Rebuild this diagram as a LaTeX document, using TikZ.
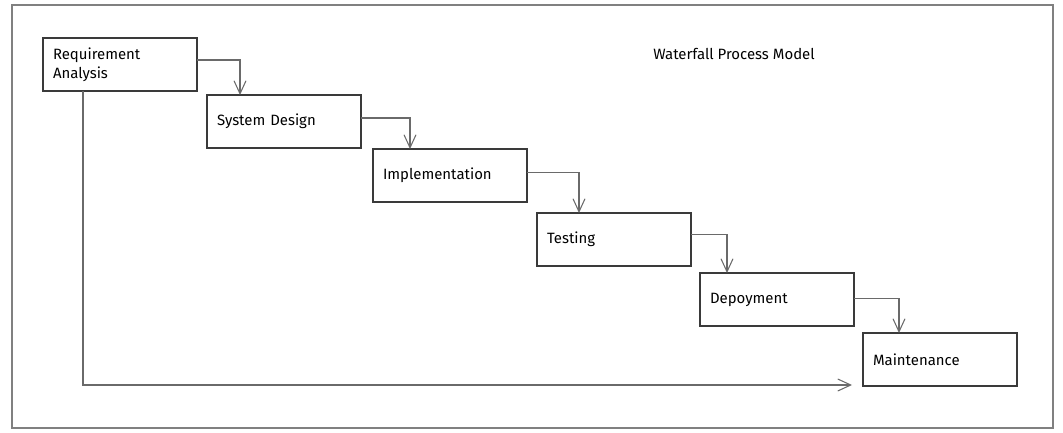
\documentclass[tikz,border=0pt]{standalone}
\usepackage{fontspec}
\setmainfont{Fira Sans}
\usepackage{xcolor}
\usepackage{tikz}
\usetikzlibrary{shapes,arrows.meta,positioning}
\definecolor{inkgray}{HTML}{3A3A3A}
\definecolor{wiregray}{HTML}{6A6A6A}
\tikzstyle{phase} = [rectangle, draw=inkgray, line width=0.6pt, outer sep=0pt, minimum
    height=1.06cm, minimum width=3.08cm, inner xsep=0.2cm, text width=2.68cm, align=left,
    font=\fontsize{8.5}{11}\selectfont]
\tikzstyle{line} = [draw=wiregray, line width=0.6pt, -{Straight Barb[length=2.6mm,width=2.4mm]}]
\tikzstyle{frame} = [draw=gray, line width=0.8pt]
\begin{document}
\begin{tikzpicture}[node distance=1cm,auto]
  \useasboundingbox (0,0) rectangle (21.26,-8.66);
  \draw [frame] (0.24,-0.10) rectangle (21.06,-8.56);

      \node [font=\fontsize{8.5}{11}\selectfont] (title) at (14.68,-1.08) {Waterfall Process Model};

      \node [phase] (req) at (2.40,-1.29) {Requirement\\Analysis};
      \node [phase, below right=0.08cm and 0.2cm of req] (design) {System Design};
      \node [phase, below right=0.02cm and 0.24cm of design] (impl) {Implementation};
      \node [phase, below right=0.22cm and 0.2cm of impl] (test) {Testing};
      \node [phase, below right=0.14cm and 0.18cm of test] (deploy) {Depoyment};
      \node [phase, below right=0.14cm and 0.18cm of deploy] (maint) {Maintenance};

      \coordinate [xshift=-0.22cm, yshift=0.02cm] (back) at (maint.south west);

      \path [line] ([yshift=0.09cm]req.east) -| ([xshift=0.66cm]design.north west);
      \path [line] ([yshift=0.07cm]design.east) -| ([xshift=0.74cm]impl.north west);
      \path [line] ([yshift=0.06cm]impl.east) -| ([xshift=0.84cm]test.north west);
      \path [line] ([yshift=0.1cm]test.east) -| ([xshift=0.54cm]deploy.north west);
      \path [line] ([yshift=0.02cm]deploy.east) -| ([xshift=0.72cm]maint.north west);
      \path [line] ([xshift=-0.74cm]req.south) |- (back);

    \end{tikzpicture}
\end{document}
